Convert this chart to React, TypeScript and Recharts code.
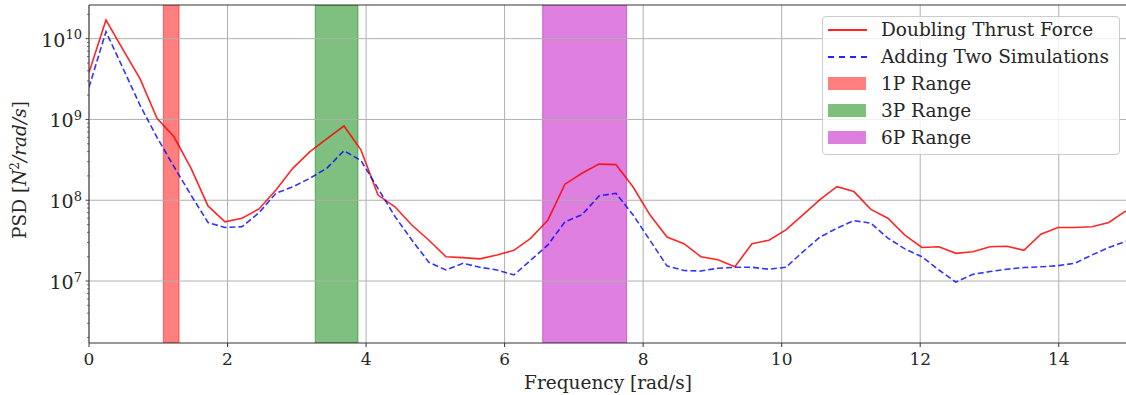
import {
  CartesianGrid,
  Line,
  LineChart,
  ReferenceArea,
  ReferenceLine,
  XAxis,
  YAxis,
} from "recharts";

// frequency bins [rad/s]
const freq = [
  0, 0.245, 0.491, 0.736, 0.982, 1.227, 1.472, 1.718, 1.963, 2.209, 2.454,
  2.699, 2.945, 3.19, 3.436, 3.681, 3.926, 4.172, 4.417, 4.663, 4.908, 5.153,
  5.399, 5.644, 5.89, 6.135, 6.38, 6.626, 6.871, 7.117, 7.362, 7.607, 7.853,
  8.098, 8.344, 8.589, 8.834, 9.08, 9.325, 9.571, 9.816, 10.061, 10.307,
  10.552, 10.798, 11.043, 11.288, 11.534, 11.779, 12.025, 12.27, 12.515,
  12.761, 13.006, 13.252, 13.497, 13.742, 13.988, 14.233, 14.479, 14.724,
  14.969,
];

const doubling = [
  3.8e9, 1.7e10, 7.3e9, 3.2e9, 1.03e9, 6.1e8, 2.5e8, 8.5e7, 5.4e7, 6.0e7,
  7.8e7, 1.34e8, 2.5e8, 4.0e8, 5.8e8, 8.3e8, 4.2e8, 1.16e8, 8.3e7, 4.9e7,
  3.2e7, 2.0e7, 1.95e7, 1.88e7, 2.1e7, 2.4e7, 3.4e7, 5.7e7, 1.58e8, 2.16e8,
  2.8e8, 2.76e8, 1.47e8, 6.6e7, 3.5e7, 2.9e7, 2.0e7, 1.83e7, 1.5e7, 2.9e7,
  3.2e7, 4.3e7, 6.6e7, 1.02e8, 1.47e8, 1.28e8, 7.7e7, 6.0e7, 3.7e7, 2.6e7,
  2.66e7, 2.2e7, 2.3e7, 2.66e7, 2.7e7, 2.4e7, 3.8e7, 4.6e7, 4.6e7, 4.7e7,
  5.3e7, 7.4e7,
];

const adding = [
  2.5e9, 1.22e10, 4.3e9, 1.5e9, 6.0e8, 2.6e8, 1.16e8, 5.3e7, 4.6e7, 4.7e7,
  7.0e7, 1.22e8, 1.47e8, 1.87e8, 2.5e8, 4.1e8, 3.1e8, 1.4e8, 6.3e7, 3.2e7,
  1.7e7, 1.37e7, 1.66e7, 1.48e7, 1.37e7, 1.19e7, 1.82e7, 2.8e7, 5.4e7, 6.6e7,
  1.13e8, 1.22e8, 6.6e7, 3.2e7, 1.54e7, 1.35e7, 1.33e7, 1.44e7, 1.48e7,
  1.48e7, 1.4e7, 1.48e7, 2.3e7, 3.5e7, 4.5e7, 5.6e7, 5.2e7, 3.4e7, 2.5e7,
  2.0e7, 1.37e7, 9.7e6, 1.21e7, 1.31e7, 1.4e7, 1.47e7, 1.5e7, 1.55e7, 1.66e7,
  2.1e7, 2.6e7, 3.1e7,
];

const ranges = [
  { name: "1P Range", from: 1.074, to: 1.3, fill: "#ff0000" },
  { name: "3P Range", from: 3.266, to: 3.883, fill: "#008000" },
  { name: "6P Range", from: 6.55, to: 7.76, fill: "#bf00bf" },
];

const xTicks = [0, 2, 4, 6, 8, 10, 12, 14];
const yMajor = [1e7, 1e8, 1e9, 1e10];
const yDomain = [1.71e6, 2.61e10];

const decades = [1e6, 1e7, 1e8, 1e9, 1e10];
const yTicks = decades
  .flatMap((d) => [1, 2, 3, 4, 5, 6, 7, 8, 9].map((m) => m * d))
  .filter((v) => v >= yDomain[0] && v <= yDomain[1]);

const data = freq.map((f, i) => ({ f, red: doubling[i], blue: adding[i] }));

const FONT = "DejaVu Serif";
const INK = "#262626";
const TITLE = 18.5;

function LogTick({ x, y, payload }: { x: number; y: number; payload: { value: number } }) {
  const lg = Math.log10(payload.value);
  const exp = Math.round(lg);
  const major = Math.abs(lg - exp) < 1e-6;
  return (
    <g>
      <line
        x1={x}
        x2={x - (major ? 3.5 : 2)}
        y1={y}
        y2={y}
        stroke="#333"
        strokeWidth={major ? 0.9 : 0.7}
      />
      {major && (
        <text x={x - 7} y={y + 8} textAnchor="end" fontFamily={FONT} fontSize={19} fill={INK}>
          10
          <tspan fontSize={13} dy={-7.5}>
            {exp}
          </tspan>
        </text>
      )}
    </g>
  );
}

const legendItems = [
  { label: "Doubling Thrust Force", kind: "solid", color: "#ff0000" },
  { label: "Adding Two Simulations", kind: "dash", color: "#0000ff" },
  ...ranges.map((r) => ({ label: r.name, kind: "patch", color: r.fill })),
];

export default function App() {
  return (
    <div
      style={{
        position: "absolute",
        left: 0,
        top: 0,
        width: 1126,
        height: 395,
        overflow: "hidden",
        background: "#fff",
        fontFamily: FONT,
      }}
    >
      <LineChart
        width={1140}
        height={395}
        data={data}
        margin={{ top: 5, right: 12, left: 39, bottom: 32 }}
      >
        <CartesianGrid horizontal={false} stroke="#b0b0b0" strokeWidth={1} />
        <XAxis
          dataKey="f"
          type="number"
          domain={[0, 15]}
          ticks={xTicks}
          interval={0}
          allowDataOverflow
          height={20}
          tickSize={4}
          tickMargin={6}
          stroke="#333"
          tick={{ fontSize: 17, fill: INK, fontFamily: FONT }}
        />
        <YAxis
          type="number"
          scale="log"
          domain={yDomain}
          ticks={yTicks}
          interval={0}
          allowDataOverflow
          width={50}
          tickSize={0}
          tickMargin={0}
          tickLine={false}
          stroke="#333"
          tick={LogTick}
        />
        {ranges.map((r) => (
          <ReferenceArea
            key={r.name}
            x1={r.from}
            x2={r.to}
            y1={yDomain[0]}
            y2={yDomain[1]}
            fill={r.fill}
            fillOpacity={0.5}
            stroke={r.fill}
            strokeOpacity={0.5}
            ifOverflow="hidden"
          />
        ))}
        {yMajor.map((v) => (
          <ReferenceLine key={v} y={v} stroke="#b0b0b0" strokeWidth={1} />
        ))}
        <ReferenceLine y={yDomain[1]} stroke="#333" strokeWidth={1} />
        <Line
          dataKey="red"
          stroke="#ff0000"
          strokeOpacity={0.85}
          strokeWidth={1.6}
          dot={false}
          isAnimationActive={false}
        />
        <Line
          dataKey="blue"
          stroke="#0000ff"
          strokeOpacity={0.8}
          strokeWidth={1.6}
          strokeDasharray="6 3"
          dot={false}
          isAnimationActive={false}
        />
      </LineChart>

      {/* axis titles */}
      <div
        style={{
          position: "absolute",
          left: 608,
          top: 382,
          transform: "translate(-50%, -50%)",
          fontFamily: FONT,
          fontSize: TITLE,
          color: INK,
          whiteSpace: "nowrap",
        }}
      >
        Frequency [rad/s]
      </div>
      <div
        style={{
          position: "absolute",
          left: 19,
          top: 170,
          transform: "translate(-50%, -50%) rotate(-90deg)",
          fontFamily: FONT,
          fontSize: TITLE,
          color: INK,
          whiteSpace: "nowrap",
        }}
      >
        PSD [<i>N</i>
        <sup style={{ fontSize: 12 }}>2</sup>
        <i>/rad/s</i>]
      </div>

      {/* legend */}
      <div
        style={{
          position: "absolute",
          left: 822,
          top: 16,
          width: 296,
          height: 137,
          border: "1px solid #cccccc",
          borderRadius: 4,
          background: "rgba(255,255,255,0.8)",
        }}
      >
        {legendItems.map((e, i) => (
          <div
            key={e.label}
            style={{ position: "absolute", left: 0, top: 3 + i * 27, height: 20, width: 296 }}
          >
            {e.kind === "patch" ? (
              <span
                style={{
                  position: "absolute",
                  left: 5,
                  top: 3,
                  width: 38,
                  height: 13,
                  background: e.color,
                  opacity: 0.5,
                  boxSizing: "border-box",
                  border: `1px solid ${e.color}`,
                }}
              />
            ) : (
              <span
                style={{
                  position: "absolute",
                  left: 5,
                  top: 9,
                  width: 39,
                  height: 0,
                  borderTop: `2px ${e.kind === "dash" ? "dashed" : "solid"} ${e.color}`,
                  opacity: 0.85,
                }}
              />
            )}
            <span
              style={{
                position: "absolute",
                left: 58,
                top: 0,
                lineHeight: "20px",
                fontFamily: FONT,
                fontSize: TITLE,
                color: INK,
                whiteSpace: "nowrap",
              }}
            >
              {e.label}
            </span>
          </div>
        ))}
      </div>
    </div>
  );
}
